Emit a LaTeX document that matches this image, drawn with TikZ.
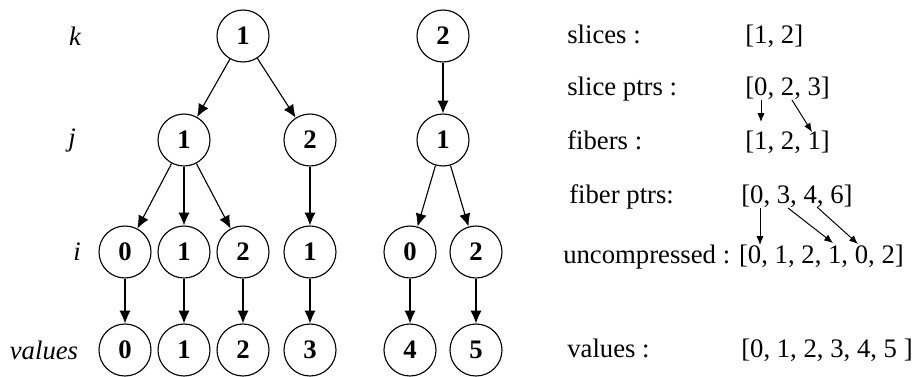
\documentclass[tikz,border=0pt]{standalone}
\usepackage{fontspec}
\setmainfont{Liberation Serif}
\usetikzlibrary{arrows.meta}
\usetikzlibrary{math}
\newcommand{\figfont}{\fontsize{19}{22}\selectfont}
\tikzstyle{key} = [circle, draw, line width=0.8pt, minimum size=1.3cm, inner sep=0pt, font=\figfont\bfseries]
\tikzstyle{lvl} = [font=\figfont\itshape]
\tikzstyle{txt} = [anchor=base west, inner sep=0pt, font=\figfont]
\tikzstyle{arrow} = [-{Latex[length=3.2mm,width=2.8mm]}, line width=0.8pt]
\tikzstyle{ptr} = [-{Latex[length=2.2mm,width=1.8mm]}, line width=0.7pt]

\begin{document}
\begin{tikzpicture}

  \tikzmath{\yk = -0.9; \yj = -3.5; \yi = -6.3; \yv = -8.75; \xt = 14.175; \xa = 18.625;}

  \useasboundingbox (0,0) rectangle (23,-9.4);

  % levels
  \node[lvl] (lk) at (1.875,\yk) {k};
  \node[lvl] (lj) at (1.8,\yj) {j};
  \node[lvl] (li) at (1.925,\yi) {i};
  \node[lvl] (lv) at (1.1,\yv) {values};

  % Tree 1
  \node[key] (k1) at (6.075,\yk) {1};
  \node[key] (j1) at (4.6,\yj) {1};
  \node[key] (j2) at (7.75,\yj) {2};
  \node[key] (i1) at (3.125,\yi) {0};
  \node[key] (i2) at (4.6,\yi) {1};
  \node[key] (i3) at (6.075,\yi) {2};
  \node[key] (i4) at (7.75,\yi) {1};
  \node[key] (v1) at (3.125,\yv) {0};
  \node[key] (v2) at (4.6,\yv) {1};
  \node[key] (v3) at (6.075,\yv) {2};
  \node[key] (v4) at (7.75,\yv) {3};
  \draw[arrow] (k1) -- (j1);
  \draw[arrow] (k1) -- (j2);
  \draw[arrow] (j1) -- (i1);
  \draw[arrow] (j1) -- (i2);
  \draw[arrow] (j1) -- (i3);
  \draw[arrow] (j2) -- (i4);
  \foreach \n in {1,2,3,4}
    \draw[arrow] (i\n) -- (v\n);

  % Tree 2
  \node[key] (k2) at (11.075,\yk) {2};
  \node[key] (j3) at (11.075,\yj) {1};
  \node[key] (i5) at (10.25,\yi) {0};
  \node[key] (i6) at (11.9,\yi) {2};
  \node[key] (v5) at (10.25,\yv) {4};
  \node[key] (v6) at (11.9,\yv) {5};
  \draw[arrow] (k2) -- (j3);
  \draw[arrow] (j3) -- (i5);
  \draw[arrow] (j3) -- (i6);
  \foreach \n in {5,6}
    \draw[arrow] (i\n) -- (v\n);

  % Arrays
  \node[txt] (slices) at (\xt,-1.075) {slices :};
  \node[txt] (sliceptrs) at (\xt,-2.375) {slice ptrs :};
  \node[txt] (fibers) at (\xt,-3.725) {fibers :};
  \node[txt] (fiberptrs) at (\xt+0.05,-5.075) {fiber ptrs:};
  \node[txt] (uncomp) at (\xt-0.1,-6.575) {uncompressed : [0, 1, 2, 1, 0, 2]};
  \node[txt] (vals) at (\xt,-8.925) {values :};
  \node[txt] (aslices) at (\xa,-1.075) {[1, 2]};
  \node[txt] (asliceptrs) at (\xa,-2.375) {[0, 2, 3]};
  \node[txt] (afibers) at (\xa,-3.725) {[1, 2, 1]};
  \node[txt] (afiberptrs) at (\xa-0.1,-5.075) {[0, 3, 4, 6]};
  \node[txt] (avals) at (\xa-0.1,-8.925) {[0, 1, 2, 3, 4, 5 ]};

  % pointers
  \coordinate (s0) at (19.025,-2.5);
  \coordinate (s1) at (19.8,-2.5);
  \coordinate (f0) at (19.025,-3.05);
  \coordinate (f2) at (20.3,-3.3);
  \coordinate (p0) at (19.0,-5.2);
  \coordinate (p1) at (19.7,-5.2);
  \coordinate (p2) at (20.425,-5.175);
  \coordinate (u0) at (19.0,-6.125);
  \coordinate (u3) at (20.825,-6.075);
  \coordinate (u4) at (21.45,-6.1);
  \draw[ptr] (s0) -- (f0);
  \draw[ptr] (s1) -- (f2);
  \draw[ptr] (p0) -- (u0);
  \draw[ptr] (p1) -- (u3);
  \draw[ptr] (p2) -- (u4);

\end{tikzpicture}
\end{document}
